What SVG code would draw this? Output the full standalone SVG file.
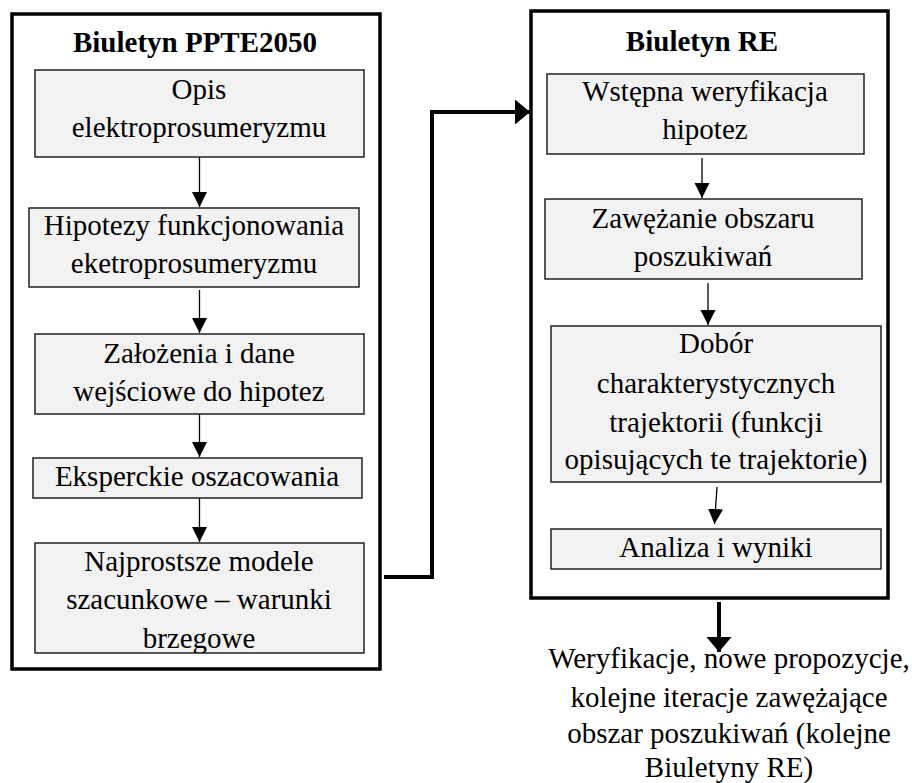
<svg xmlns="http://www.w3.org/2000/svg" width="912" height="783" viewBox="0 0 912 783">
<style>
.outer{fill:#fff;stroke:#000;stroke-width:3.5}
.box{fill:#f2f2f2;stroke:#222;stroke-width:1.5}
.t{font-family:"Liberation Serif","Times New Roman",serif;font-size:29px;fill:#000;text-anchor:middle}
.title{font-weight:bold}
.thin{stroke:#000;stroke-width:1.3;fill:none}
.thick{stroke:#000;stroke-width:4;fill:none}
</style>
<defs>
<marker id="ah" markerUnits="userSpaceOnUse" markerWidth="16" markerHeight="16" refX="15" refY="7.5" orient="auto">
<path d="M0,0 L15,7.5 L0,15 Z" fill="#000"/>
</marker>
<marker id="ahb" markerUnits="userSpaceOnUse" markerWidth="26" markerHeight="26" refX="15" refY="12.5" orient="auto">
<path d="M0,0 L15,12.5 L0,25 Z" fill="#000"/>
</marker>
<clipPath id="c5"><rect x="35" y="543" width="329" height="110"/></clipPath>
</defs>

<g id="left-container">
<rect class="outer" x="12" y="14" width="368" height="655"/>
<text class="t title" x="195" y="52">Biuletyn PPTE2050</text>
</g>

<g id="n1">
<rect class="box" x="35" y="70" width="329" height="87"/>
<text class="t" x="199" y="99">Opis</text>
<text class="t" x="199" y="137">elektroprosumeryzmu</text>
</g>
<g id="n2">
<rect class="box" x="29" y="208" width="330" height="79"/>
<text class="t" x="194" y="235">Hipotezy funkcjonowania</text>
<text class="t" x="194" y="273">eketroprosumeryzmu</text>
</g>
<g id="n3">
<rect class="box" x="35" y="334" width="329" height="80"/>
<text class="t" x="199" y="363">Założenia i dane</text>
<text class="t" x="199" y="401">wejściowe do hipotez</text>
</g>
<g id="n4">
<rect class="box" x="33" y="458" width="329" height="40"/>
<text class="t" x="197" y="486">Eksperckie oszacowania</text>
</g>
<g id="n5">
<rect class="box" x="35" y="543" width="329" height="110"/>
<g clip-path="url(#c5)">
<text class="t" x="199" y="571">Najprostsze modele</text>
<text class="t" x="199" y="609">szacunkowe – warunki</text>
<text class="t" x="199" y="648">brzegowe</text>
</g>
</g>

<g id="right-container">
<rect class="outer" x="531" y="11" width="357" height="587"/>
<text class="t title" x="702" y="51">Biuletyn RE</text>
</g>

<g id="r1">
<rect class="box" x="547" y="74" width="317" height="80"/>
<text class="t" x="705" y="101">Wstępna weryfikacja</text>
<text class="t" x="705" y="139">hipotez</text>
</g>
<g id="r2">
<rect class="box" x="545" y="199" width="317" height="80"/>
<text class="t" x="703" y="228">Zawężanie obszaru</text>
<text class="t" x="703" y="266">poszukiwań</text>
</g>
<g id="r3">
<rect class="box" x="551" y="326" width="330" height="156"/>
<text class="t" x="716" y="353">Dobór</text>
<text class="t" x="716" y="393">charakterystycznych</text>
<text class="t" x="716" y="432">trajektorii (funkcji</text>
<text class="t" x="716" y="469">opisujących te trajektorie)</text>
</g>
<g id="r4">
<rect class="box" x="551" y="529" width="330" height="40"/>
<text class="t" x="716" y="557">Analiza i wyniki</text>
</g>

<g id="result-text">
<text class="t" x="729" y="668">Weryfikacje, nowe propozycje,</text>
<text class="t" x="729" y="707">kolejne iteracje zawężające</text>
<text class="t" x="729" y="743">obszar poszukiwań (kolejne</text>
<text class="t" x="729" y="777">Biuletyny RE)</text>
</g>

<g id="connectors">
<line class="thin" x1="199.5" y1="157" x2="199.5" y2="207" marker-end="url(#ah)"/>
<line class="thin" x1="199.5" y1="290" x2="199.5" y2="333" marker-end="url(#ah)"/>
<line class="thin" x1="199.5" y1="414" x2="199.5" y2="457" marker-end="url(#ah)"/>
<line class="thin" x1="199.5" y1="498" x2="199.5" y2="542" marker-end="url(#ah)"/>
<line class="thin" x1="702" y1="158" x2="702" y2="198" marker-end="url(#ah)"/>
<line class="thin" x1="708" y1="283" x2="708" y2="325" marker-end="url(#ah)"/>
<line class="thin" x1="717" y1="487" x2="714.5" y2="524" marker-end="url(#ah)"/>
<path class="thick" d="M384,577 H432 V112 H530" marker-end="url(#ahb)"/>
<line class="thick" x1="719" y1="602" x2="719" y2="652" marker-end="url(#ahb)"/>
</g>
</svg>
